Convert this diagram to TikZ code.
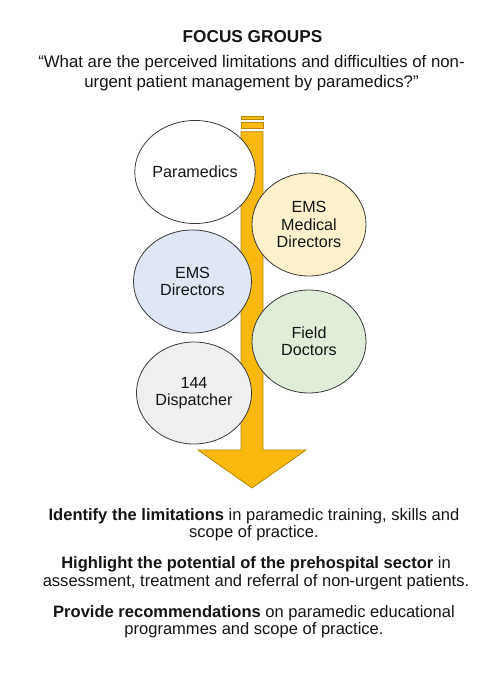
\documentclass[tikz,border=0pt]{standalone}
\usepackage{fontspec}
\setmainfont{Liberation Sans}
\usetikzlibrary{shapes.geometric}
\definecolor{arrowfill}{HTML}{F9B90F}
\definecolor{arrowline}{HTML}{B58800}
\definecolor{medfill}{HTML}{FDF1CC}
\definecolor{dirfill}{HTML}{DEE7F3}
\definecolor{docfill}{HTML}{E0EDD9}
\definecolor{dispfill}{HTML}{EFEFEF}
\definecolor{circline}{HTML}{3A3A3A}
\definecolor{txt}{HTML}{151515}
\tikzset{
  grp/.style={ellipse, draw=circline, line width=0.6pt, inner sep=0pt,
    align=center, text=txt, font=\fontsize{12.1}{12.8}\selectfont},
  arrowbody/.style={fill=arrowfill, draw=arrowline, line width=0.6pt},
  para/.style={align=center, text=txt, inner sep=0pt}
}
\begin{document}
\begin{tikzpicture}[x=0.75pt,y=-0.75pt]
\useasboundingbox[fill=white] (0,0) rectangle (496,676);
% title and question
\node[para, font=\fontsize{12.9}{15}\selectfont\bfseries] (title) at (252.5,36.7) {FOCUS GROUPS};
\node[para, font=\fontsize{12.6}{15.5}\selectfont] (question) at (251.5,73)
  {“What are the perceived limitations and difficulties of non-\\urgent patient management by paramedics?”};
% arrow
\coordinate (atop) at (252,131.7);
\coordinate (atip) at (252,488);
\fill[arrowfill, draw=arrowline, line width=0.5pt] (241,116) rectangle (263,119.3);
\fill[arrowfill, draw=arrowline, line width=0.5pt] (241,122.7) rectangle (263,128);
\path[arrowbody] (241,131.7) -- (263,131.7) -- (263,450) -- (306,450) -- (atip)
  -- (198,450) -- (241,450) -- cycle;
% groups
\node[grp, fill=white, minimum width=84.8pt, minimum height=77.3pt] (para1) at (195,172) {Paramedics};
\node[grp, fill=medfill, minimum width=85.5pt, minimum height=77.3pt] (meddir) at (309,224.5) {EMS\\Medical\\Directors};
\node[grp, fill=dirfill, minimum width=88.5pt, minimum height=77.3pt] (emsdir) at (192.5,281.5) {EMS\\Directors};
\node[grp, fill=docfill, minimum width=85.5pt, minimum height=77.3pt] (fielddoc) at (309,341.5) {Field\\Doctors};
\node[grp, fill=dispfill, minimum width=86.3pt, minimum height=76.5pt] (disp) at (194,393) {144\\Dispatcher};
% outcomes
\node[para, font=\fontsize{12.4}{13}\selectfont] (out1) at (254,524.7)
  {\textbf{Identify the limitations} in paramedic training, skills and\\scope of practice.};
\node[para, font=\fontsize{12.4}{13}\selectfont] (out2) at (256,573.3)
  {\textbf{Highlight the potential of the prehospital sector} in\\assessment, treatment and referral of non-urgent patients.};
\node[para, font=\fontsize{12.4}{13}\selectfont] (out3) at (254,621.8)
  {\textbf{Provide recommendations} on paramedic educational\\programmes and scope of practice.};
\end{tikzpicture}
\end{document}
